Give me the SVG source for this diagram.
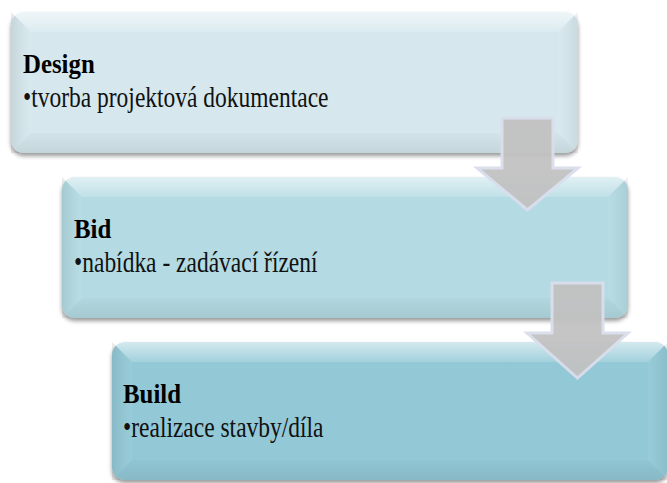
<svg xmlns="http://www.w3.org/2000/svg" width="667" height="483" viewBox="0 0 667 483">
<defs>
<filter id="sh" x="-5%" y="-10%" width="110%" height="125%">
<feDropShadow dx="0" dy="3" stdDeviation="2" flood-color="#000" flood-opacity="0.4"/>
</filter>
<linearGradient id="topg" x1="0" y1="0" x2="0" y2="1">
<stop offset="0" stop-color="#fff" stop-opacity="0.6"/>
<stop offset="1" stop-color="#fff" stop-opacity="0.15"/>
</linearGradient>
<linearGradient id="leftg" x1="0" y1="0" x2="1" y2="0">
<stop offset="0" stop-color="#000" stop-opacity="0.08"/>
<stop offset="1" stop-color="#fff" stop-opacity="0.05"/>
</linearGradient>
<linearGradient id="rightg" x1="0" y1="0" x2="1" y2="0">
<stop offset="0" stop-color="#fff" stop-opacity="0.05"/>
<stop offset="1" stop-color="#000" stop-opacity="0.06"/>
</linearGradient>
<linearGradient id="botg" x1="0" y1="0" x2="0" y2="1">
<stop offset="0" stop-color="#000" stop-opacity="0.02"/>
<stop offset="1" stop-color="#000" stop-opacity="0.08"/>
</linearGradient>
</defs>
<style>
.h{font-weight:bold;font-size:27px;fill:#000}
.b{font-weight:normal;font-size:29px;fill:#111}
.arrow{fill:#c2c2c2;stroke:#dadeec;stroke-width:3;stroke-linejoin:miter;opacity:0.95}
</style>
<rect width="667" height="483" fill="#fff"/>

<g id="design">
<rect x="11" y="12" width="567" height="141" rx="13" fill="#d6e8ee" filter="url(#sh)"/>
<polygon points="11,12 578,12 558,32 31,32" fill="url(#topg)"/>
<polygon points="11,12 31,32 31,133 11,153" fill="url(#leftg)"/>
<polygon points="578,12 578,153 558,133 558,32" fill="url(#rightg)"/>
<polygon points="31,133 558,133 578,153 11,153" fill="url(#botg)"/>
<text class="h" font-family="Liberation Serif" transform="translate(23,73) scale(0.92,1)">Design</text>
<text class="b" font-family="Liberation Serif" transform="translate(23,107) scale(0.81,1)">•tvorba projektová dokumentace</text>
</g>

<g id="bid">
<rect x="62" y="177" width="566" height="141" rx="13" fill="#b4dbe3" filter="url(#sh)"/>
<polygon points="62,177 628,177 608,197 82,197" fill="url(#topg)"/>
<polygon points="62,177 82,197 82,298 62,318" fill="url(#leftg)"/>
<polygon points="628,177 628,318 608,298 608,197" fill="url(#rightg)"/>
<polygon points="82,298 608,298 628,318 62,318" fill="url(#botg)"/>
<text class="h" font-family="Liberation Serif" transform="translate(74,238) scale(0.92,1)">Bid</text>
<text class="b" font-family="Liberation Serif" transform="translate(74,272) scale(0.81,1)">•nabídka - zadávací řízení</text>
</g>

<g id="build">
<rect x="112" y="342" width="556" height="138" rx="13" fill="#93c9d7" filter="url(#sh)"/>
<polygon points="112,342 668,342 648,362 132,362" fill="url(#topg)"/>
<polygon points="112,342 132,362 132,460 112,480" fill="url(#leftg)"/>
<polygon points="668,342 668,480 648,460 648,362" fill="url(#rightg)"/>
<polygon points="132,460 648,460 668,480 112,480" fill="url(#botg)"/>
<text class="h" font-family="Liberation Serif" transform="translate(123,403) scale(0.92,1)">Build</text>
<text class="b" font-family="Liberation Serif" transform="translate(123,437) scale(0.81,1)">•realizace stavby/díla</text>
</g>

<g id="connectors">
<polygon class="arrow" points="502,118 553,118 553,168 578,168 527.5,210 477,168 502,168"/>
<polygon class="arrow" points="552,283 603,283 603,333 628,333 577.5,378 527,333 552,333"/>
</g>
</svg>
